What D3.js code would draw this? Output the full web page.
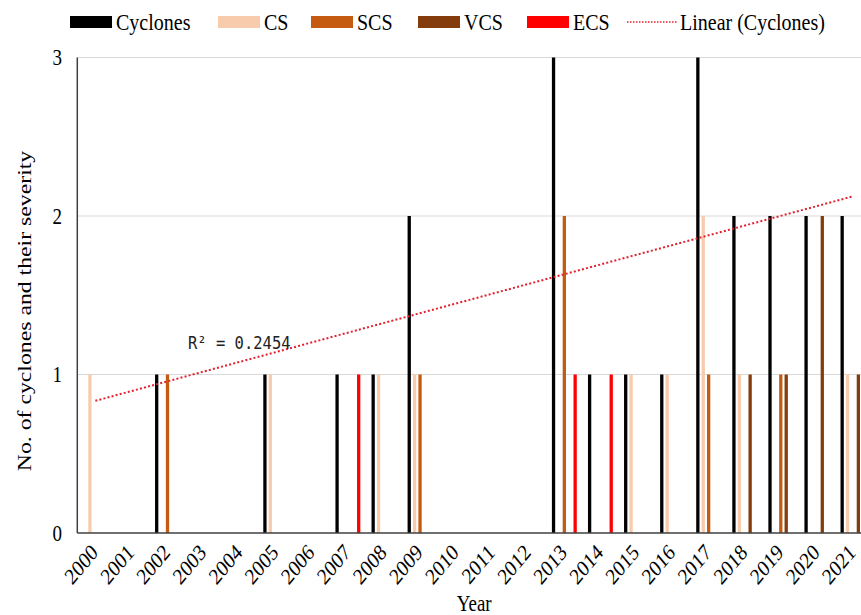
<!DOCTYPE html>
<html>
<head>
<meta charset="utf-8">
<script src="https://cdn.jsdelivr.net/npm/d3@7/dist/d3.min.js"></script>
<style>
  html, body { margin: 0; padding: 0; background: #fff; }
  svg { display: block; }
</style>
</head>
<body>
<svg id="chart" width="861" height="615"></svg>
<script>
// Cyclone counts per year and their severity classes
const years = ["2000","2001","2002","2003","2004","2005","2006","2007","2008","2009","2010",
               "2011","2012","2013","2014","2015","2016","2017","2018","2019","2020","2021"];
const cyclones = [0,0,1,0,0,1,0,1,1,2,0,0,0,3,1,1,1,3,2,2,2,2];
const cs       = [1,0,0,0,0,1,0,0,1,1,0,0,0,0,0,1,1,2,1,0,0,1];
const scs      = [0,0,1,0,0,0,0,0,0,1,0,0,0,2,0,0,0,1,0,1,0,0];
const vcs      = [0,0,0,0,0,0,0,0,0,0,0,0,0,0,0,0,0,0,1,1,2,1];
const ecs      = [0,0,0,0,0,0,0,1,0,0,0,0,0,1,1,0,0,0,0,0,0,0];
const yTicks   = [0, 1, 2, 3];

// Linear trendline of the cyclone series (end points) and its fit statistic
const trendYears  = ["2000", "2021"];
const trendValues = [0.834, 2.124];
const rSquared = "0.2454";

const seriesNames  = ["Cyclones", "CS", "SCS", "VCS", "ECS"];
const seriesValues = [cyclones, cs, scs, vcs, ecs];
const colors = ["#000000", "#F8CBAD", "#C55A11", "#843C0C", "#FF0000"];
const trendColor = "#E3202E";

const svg = d3.select("#chart");
const plotLeft = 77.3, plotRight = 871, plotTop = 57.5, plotBottom = 533;
const stretch = 1.2; // text is drawn slightly tall and narrow

const x0 = d3.scaleBand().domain(years).range([plotLeft, plotRight]).padding(0);
const x1 = d3.scaleBand().domain(seriesNames).range([-13.5, 13.5])
  .paddingInner(0.39).paddingOuter(0.195);
const y = d3.scaleLinear().domain([0, 3]).range([plotBottom, plotTop]);

const serif = "'Liberation Serif', 'Times New Roman', serif";

// Horizontal gridlines
svg.append("g").selectAll("line").data(yTicks.filter(d => d > 0)).join("line")
  .attr("x1", plotLeft).attr("x2", 861)
  .attr("y1", d => y(d)).attr("y2", d => y(d))
  .attr("stroke", "#d9d9d9").attr("stroke-width", 1.2);

// Bars
const rows = [];
seriesNames.forEach((s, i) => {
  years.forEach((yr, j) => rows.push({ series: s, year: yr, value: seriesValues[i][j], color: colors[i] }));
});
svg.append("g").selectAll("rect").data(rows.filter(d => d.value > 0)).join("rect")
  .attr("x", d => x0(d.year) + x0.bandwidth() / 2 + x1(d.series))
  .attr("width", x1.bandwidth())
  .attr("y", d => y(d.value))
  .attr("height", d => y(0) - y(d.value))
  .attr("fill", d => d.color);

// Axis lines
svg.append("line").attr("x1", plotLeft).attr("x2", plotLeft).attr("y1", plotTop).attr("y2", plotBottom)
  .attr("stroke", "#404040").attr("stroke-width", 1.5);
svg.append("line").attr("x1", plotLeft).attr("x2", 861).attr("y1", plotBottom).attr("y2", plotBottom)
  .attr("stroke", "#404040").attr("stroke-width", 1.5);

// Y tick labels
svg.append("g").selectAll("text").data(yTicks).join("text")
  .attr("transform", d => `translate(62,${y(d)}) scale(1,${stretch})`)
  .attr("dy", "0.35em")
  .attr("text-anchor", "end")
  .style("font-family", serif).style("font-size", "19px").attr("fill", "#000")
  .text(d => d);

// X tick labels, rotated
svg.append("g").selectAll("text").data(years).join("text")
  .attr("transform", d => `translate(${x0(d) + x0.bandwidth() / 2 - 1},${plotBottom + 15}) scale(1,${stretch}) rotate(-45)`)
  .attr("text-anchor", "end").attr("dy", "0.35em")
  .style("font-family", serif).style("font-size", "19px").attr("fill", "#000")
  .text(d => d);

// Axis titles
svg.append("text")
  .attr("transform", `translate(${(plotLeft + plotRight) / 2},611) scale(1,${stretch})`)
  .attr("text-anchor", "middle")
  .style("font-family", serif).style("font-size", "19px").text("Year");
svg.append("text")
  .attr("transform", `translate(31,311) rotate(-90) scale(1.25,1)`)
  .attr("text-anchor", "middle")
  .style("font-family", serif).style("font-size", "19px")
  .text("No. of cyclones and their severity");

// Trendline
const tx = d => x0(d) + x0.bandwidth() / 2;
svg.append("line")
  .attr("x1", tx(trendYears[0])).attr("y1", y(trendValues[0]))
  .attr("x2", tx(trendYears[1])).attr("y2", y(trendValues[1]))
  .attr("stroke", trendColor).attr("stroke-width", 2)
  .attr("stroke-dasharray", "2,2.2");

svg.append("text")
  .attr("transform", `translate(188,349) scale(1,1.1)`)
  .style("font-family", "'DejaVu Sans Mono', monospace").style("font-size", "15.5px")
  .attr("fill", "#222")
  .text(`R² = ${rSquared}`);

// Legend
const legendItems = seriesNames.map((s, i) => ({ name: s, color: colors[i], type: "bar" }))
  .concat([{ name: "Linear (Cyclones)", color: trendColor, type: "line" }]);
const legendX = [70, 218, 311, 418, 527, 627];
const lg = svg.append("g");
legendItems.forEach((d, i) => {
  const g = lg.append("g").attr("transform", `translate(${legendX[i]},22)`);
  if (d.type === "bar") {
    g.append("rect").attr("x", 0).attr("y", -6).attr("width", 42).attr("height", 12).attr("fill", d.color);
  } else {
    g.append("line").attr("x1", 0).attr("x2", 50).attr("y1", 0).attr("y2", 0)
      .attr("stroke", d.color).attr("stroke-width", 1.5).attr("stroke-dasharray", "1.5,1.5");
  }
  g.append("text")
    .attr("transform", `translate(${d.type === "bar" ? 46 : 53},0) scale(1,1.15)`)
    .attr("dy", "0.35em")
    .style("font-family", serif).style("font-size", "20px").text(d.name);
});
</script>
</body>
</html>
